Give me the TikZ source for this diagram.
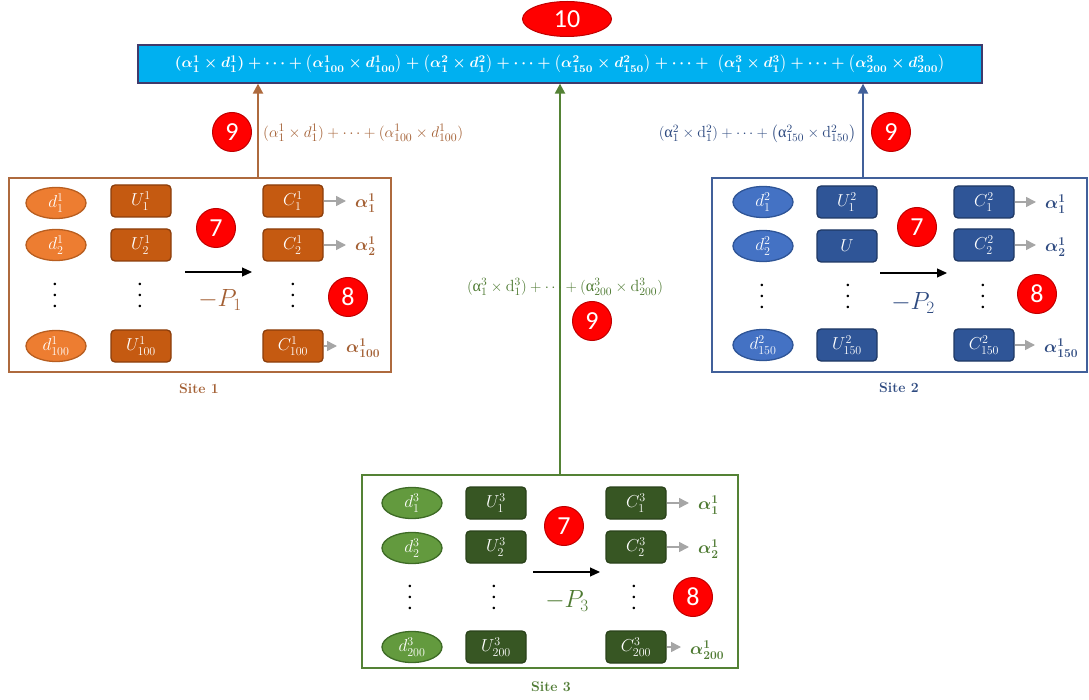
\documentclass[tikz,border=0pt]{standalone}
\usepackage{fontspec}
\usepackage{amsmath}
\usepackage{graphicx}
\usetikzlibrary{shapes.geometric,arrows.meta,calc}
\newfontfamily\numfont{Carlito}
\newfontfamily\upgr{Liberation Serif}
\newcommand{\ua}{\text{\upgr α}}
\newcommand{\ud}{\mathrm{d}}
\newcommand{\tridots}{\vbox{\baselineskip=11pt\lineskiplimit=-20pt
  \hbox{\fontsize{9}{9}\selectfont\textbullet}\hbox{\fontsize{9}{9}\selectfont\textbullet}\hbox{\fontsize{9}{9}\selectfont\textbullet}}}

% site 1
\definecolor{brownline}{HTML}{AE6A3E}
\definecolor{browntext}{HTML}{A35F33}
\definecolor{orangefill}{HTML}{ED7D31}
\definecolor{orangeline}{HTML}{B85E20}
\definecolor{rustfill}{HTML}{C55A11}
\definecolor{rustline}{HTML}{8B3E0C}
% site 2
\definecolor{blueline}{HTML}{41609A}
\definecolor{bluetext}{HTML}{2E4A80}
\definecolor{bluefill}{HTML}{4472C4}
\definecolor{bluefillline}{HTML}{2F5597}
\definecolor{navyfill}{HTML}{2F5597}
\definecolor{navyline}{HTML}{1F3864}
% site 3
\definecolor{greenline}{HTML}{548235}
\definecolor{greentext}{HTML}{4E7A32}
\definecolor{greenfill}{HTML}{639A3E}
\definecolor{greenfillline}{HTML}{3E6B26}
\definecolor{darkgfill}{HTML}{375623}
\definecolor{darkgline}{HTML}{2A421A}
% shared
\definecolor{barfill}{HTML}{00B0F0}
\definecolor{barline}{HTML}{403A6B}
\definecolor{markred}{HTML}{FF0000}
\definecolor{markline}{HTML}{C00000}
\definecolor{arrowgray}{HTML}{A6A6A6}

\tikzset{
  redmark/.style={circle,fill=markred,draw=markline,line width=1pt,minimum size=39pt,
    inner sep=0pt,text=white,font=\numfont\fontsize{26}{26}\selectfont},
  dcell/.style 2 args={ellipse,fill=#1,draw=#2,line width=1.3pt,minimum width=60pt,
    minimum height=31pt,inner sep=0pt,text=white,font=\fontsize{17}{17}\selectfont},
  ucell/.style 2 args={rectangle,rounded corners=4pt,fill=#1,draw=#2,line width=1.3pt,
    minimum width=60pt,minimum height=32pt,inner sep=0pt,text=white,font=\fontsize{17}{17}\selectfont},
  sitebox/.style={rectangle,line width=2.3pt,inner sep=0pt},
  sitelabel/.style={font=\bfseries\fontsize{14}{14}\selectfont},
  alphalabel/.style={anchor=west,inner sep=0pt,font=\fontsize{18}{18}\selectfont\boldmath},
  pnode/.style={font=\fontsize{25}{25}\selectfont},
  dotcol/.style={inner sep=0pt},
  grayarr/.style={draw=arrowgray,line width=1.5pt,-{Triangle[length=10pt,width=10pt]},shorten >=9pt},
  blackarr/.style={draw=black,line width=1.2pt,-{Triangle[length=10pt,width=9pt]}},
  uparr/.style={line width=2.2pt,-{Triangle[length=10pt,width=10pt]}},
  sumlabel/.style={inner sep=0pt,font=\fontsize{13}{13}\selectfont},
}

\begin{document}
\begin{tikzpicture}[x=1pt,y=-1pt]
\useasboundingbox (0,0) rectangle (1089,700);

% ---------- aggregated sum ----------
\node[rectangle,fill=barfill,draw=barline,line width=1.3pt,minimum width=844pt,
  minimum height=38pt,inner sep=0pt,text=white] (bar) at (560,64)
  {\resizebox{770pt}{!}{\boldmath$(\alpha^1_1\times d^1_1)+\cdots+\bigl(\alpha^1_{100}\times d^1_{100}\bigr)+\bigl(\alpha^2_1\times d^2_1\bigr)+\cdots+\bigl(\alpha^2_{150}\times d^2_{150}\bigr)+\cdots+\;\bigl(\alpha^3_1\times d^3_1\bigr)+\cdots+\bigl(\alpha^3_{200}\times d^3_{200}\bigr)$}};
\node[ellipse,fill=markred,draw=markline,line width=1pt,minimum width=89pt,minimum height=35pt,
  inner sep=0pt,text=white,font=\numfont\fontsize{26}{26}\selectfont] (m10) at (567,19) {10};

% ---------- site boxes ----------
\node[sitebox,draw=brownline,minimum width=382pt,minimum height=194pt] (s1) at (200,275) {};
\node[sitebox,draw=blueline,minimum width=375pt,minimum height=194pt] (s2) at (899.5,275) {};
\node[sitebox,draw=greenline,minimum width=376pt,minimum height=193pt] (s3) at (550,571.5) {};

\node[sitelabel,text=browntext] (l1) at (199,389) {Site 1};
\node[sitelabel,text=bluetext] (l2) at (899,388) {Site 2};
\node[sitelabel,text=greentext] (l3) at (551,687) {Site 3};

% ---------- uploads to the aggregator ----------
\coordinate (t1) at (258,0);
\coordinate (t2) at (863,0);
\coordinate (t3) at (560,0);
\draw[uparr,draw=brownline,fill=brownline] (s1.north -| t1) -- (bar.south -| t1);
\draw[uparr,draw=blueline,fill=blueline] (s2.north -| t2) -- (bar.south -| t2);
\draw[uparr,draw=greenline,fill=greenline] (s3.north -| t3) -- (bar.south -| t3);

\node[sumlabel,text=browntext,anchor=west] (g1) at (263,133)
  {\resizebox{200pt}{!}{$(\alpha^1_1\times d^1_1)+\cdots+(\alpha^1_{100}\times d^1_{100})$}};
\node[sumlabel,text=bluetext,anchor=east] (g2) at (856,134)
  {\resizebox{197pt}{!}{$(\ua^2_1\times \ud^2_1)+\cdots+\bigl(\ua^2_{150}\times \ud^2_{150}\bigr)$}};
\node[sumlabel,text=greentext] (g3) at (565,287)
  {\resizebox{196pt}{!}{$(\ua^3_1\times \ud^3_1)+\cdots+(\ua^3_{200}\times \ud^3_{200})$}};

\node[redmark] (n9a) at (232,132) {9};
\node[redmark] (n9b) at (891,132) {9};
\node[redmark] (n9c) at (592,321) {9};

% ---------- site 1 ----------
\node[dcell={orangefill}{orangeline}] (d11) at (56,203) {$d^1_1$};
\node[dcell={orangefill}{orangeline}] (d12) at (56,245) {$d^1_2$};
\node[dcell={orangefill}{orangeline}] (d13) at (56,346) {$d^1_{100}$};
\node[ucell={rustfill}{rustline}] (u11) at (141,201) {$U^1_1$};
\node[ucell={rustfill}{rustline}] (u12) at (141,245) {$U^1_2$};
\node[ucell={rustfill}{rustline}] (u13) at (141,346) {$U^1_{100}$};
\node[ucell={rustfill}{rustline}] (c11) at (293,201) {$C^1_1$};
\node[ucell={rustfill}{rustline}] (c12) at (293,245) {$C^1_2$};
\node[ucell={rustfill}{rustline}] (c13) at (293,346) {$C^1_{100}$};
\node[dotcol] (v11) at (55,296) {\tridots};
\node[dotcol] (v12) at (140,296) {\tridots};
\node[dotcol] (v13) at (293,296) {\tridots};
\node[alphalabel,text=browntext] (al11) at (355,203) {$\alpha^1_1$};
\node[alphalabel,text=browntext] (al12) at (355,246) {$\alpha^1_2$};
\node[alphalabel,text=browntext] (al13) at (346,348) {$\alpha^1_{100}$};
\draw[grayarr] (c11.east) -- (c11.east -| al11.west);
\draw[grayarr] (c12.east) -- (c12.east -| al12.west);
\draw[grayarr] (c13.east) -- (c13.east -| al13.west);
\coordinate (a1s) at (185,272);
\coordinate (a1e) at (252,272);
\draw[blackarr] (a1s) -- (a1e);
\node[pnode,text=browntext] (p1) at (220,300) {$-P_1$};
\node[redmark] (n7a) at (216,228) {7};
\node[redmark] (n8a) at (348,297) {8};

% ---------- site 2 ----------
\node[dcell={bluefill}{bluefillline}] (d21) at (763,202) {$d^2_1$};
\node[dcell={bluefill}{bluefillline}] (d22) at (763,246) {$d^2_2$};
\node[dcell={bluefill}{bluefillline}] (d23) at (763,345) {$d^2_{150}$};
\node[ucell={navyfill}{navyline}] (u21) at (847,202) {$U^2_1$};
\node[ucell={navyfill}{navyline}] (u22) at (847,246) {$U$};
\node[ucell={navyfill}{navyline}] (u23) at (847,345) {$U^2_{150}$};
\node[ucell={navyfill}{navyline}] (c21) at (984,202) {$C^2_1$};
\node[ucell={navyfill}{navyline}] (c22) at (984,245) {$C^2_2$};
\node[ucell={navyfill}{navyline}] (c23) at (984,345) {$C^2_{150}$};
\node[dotcol] (v21) at (762,297) {\tridots};
\node[dotcol] (v22) at (848,297) {\tridots};
\node[dotcol] (v23) at (983,297) {\tridots};
\node[alphalabel,text=bluetext] (al21) at (1045,204) {$\alpha^1_1$};
\node[alphalabel,text=bluetext] (al22) at (1045,247) {$\alpha^1_2$};
\node[alphalabel,text=bluetext] (al23) at (1044,348) {$\alpha^1_{150}$};
\draw[grayarr] (c21.east) -- (c21.east -| al21.west);
\draw[grayarr] (c22.east) -- (c22.east -| al22.west);
\draw[grayarr] (c23.east) -- (c23.east -| al23.west);
\coordinate (a2s) at (880,273);
\coordinate (a2e) at (947,273);
\draw[blackarr] (a2s) -- (a2e);
\node[pnode,text=bluetext] (p2) at (913,303) {$-P_2$};
\node[redmark] (n7b) at (917,227) {7};
\node[redmark] (n8b) at (1037,294) {8};

% ---------- site 3 ----------
\node[dcell={greenfill}{greenfillline}] (d31) at (412,503) {$d^3_1$};
\node[dcell={greenfill}{greenfillline}] (d32) at (412,548) {$d^3_2$};
\node[dcell={greenfill}{greenfillline}] (d33) at (412,647) {$d^3_{200}$};
\node[ucell={darkgfill}{darkgline}] (u31) at (496,503) {$U^3_1$};
\node[ucell={darkgfill}{darkgline}] (u32) at (496,547) {$U^3_2$};
\node[ucell={darkgfill}{darkgline}] (u33) at (496,647) {$U^3_{200}$};
\node[ucell={darkgfill}{darkgline}] (c31) at (636,503) {$C^3_1$};
\node[ucell={darkgfill}{darkgline}] (c32) at (636,547) {$C^3_2$};
\node[ucell={darkgfill}{darkgline}] (c33) at (636,647) {$C^3_{200}$};
\node[dotcol] (v31) at (410,598) {\tridots};
\node[dotcol] (v32) at (494,598) {\tridots};
\node[dotcol] (v33) at (634,598) {\tridots};
\node[alphalabel,text=greentext] (al31) at (698,505) {$\alpha^1_1$};
\node[alphalabel,text=greentext] (al32) at (698,549) {$\alpha^1_2$};
\node[alphalabel,text=greentext] (al33) at (690,650) {$\alpha^1_{200}$};
\draw[grayarr] (c31.east) -- (c31.east -| al31.west);
\draw[grayarr] (c32.east) -- (c32.east -| al32.west);
\draw[grayarr] (c33.east) -- (c33.east -| al33.west);
\coordinate (a3s) at (533,572);
\coordinate (a3e) at (600,572);
\draw[blackarr] (a3s) -- (a3e);
\node[pnode,text=greentext] (p3) at (567,601) {$-P_3$};
\node[redmark] (n7c) at (564,526) {7};
\node[redmark] (n8c) at (693,597) {8};
\end{tikzpicture}
\end{document}
